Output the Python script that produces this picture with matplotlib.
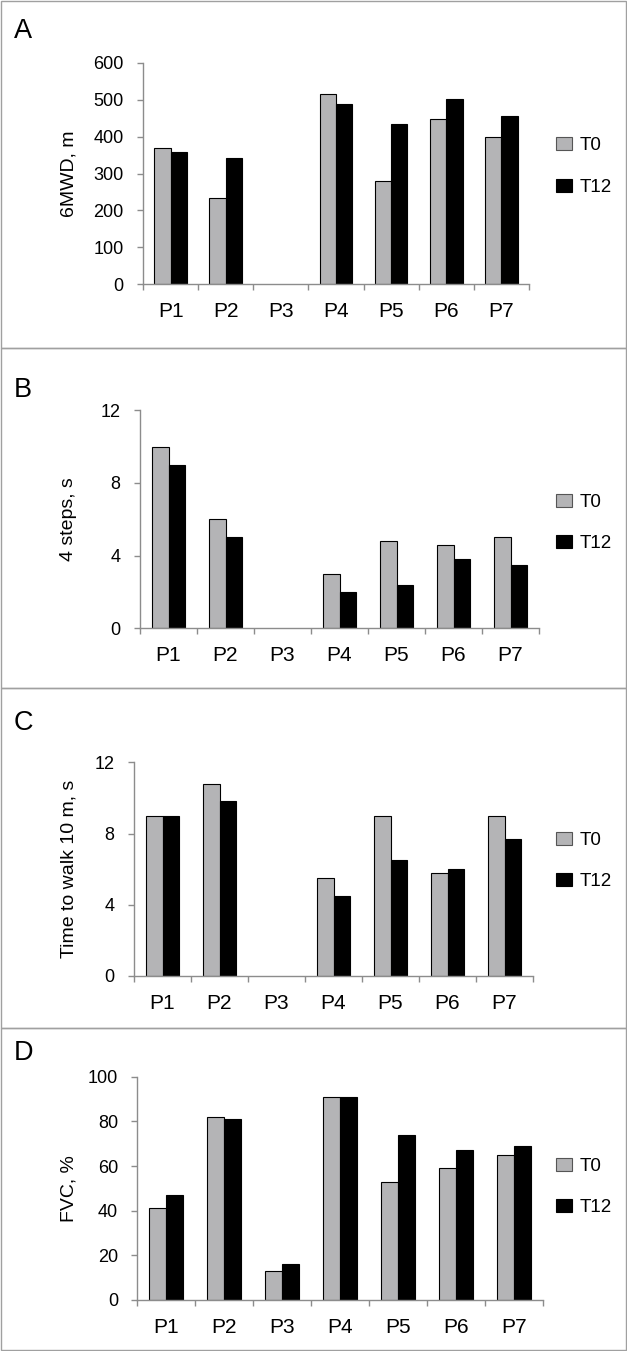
import matplotlib
matplotlib.use("Agg")
import matplotlib.pyplot as plt
from matplotlib.patches import Rectangle, Patch
from matplotlib.transforms import blended_transform_factory
import numpy as np

plt.rcParams['font.family'] = ['Liberation Sans', 'DejaVu Sans']

categories = ["P1", "P2", "P3", "P4", "P5", "P6", "P7"]
series_names = ["T0", "T12"]

mwd_t0 = [370, 235, 0, 515, 280, 448, 400]
mwd_t12 = [358, 342, 0, 488, 435, 503, 455]

steps_t0 = [10, 6, 0, 3, 4.8, 4.6, 5]
steps_t12 = [9, 5, 0, 2, 2.4, 3.8, 3.5]

walk_t0 = [9, 10.8, 0, 5.5, 9, 5.8, 9]
walk_t12 = [9, 9.8, 0, 4.5, 6.5, 6, 7.7]

fvc_t0 = [41, 82, 13, 91, 53, 59, 65]
fvc_t12 = [47, 81, 16, 91, 74, 67, 69]

panel_letters = ["A", "B", "C", "D"]
ylabels = ["6MWD, m", "4 steps, s", "Time to walk 10 m, s", "FVC, %"]
yticks_list = [[0, 100, 200, 300, 400, 500, 600], [0, 4, 8, 12], [0, 4, 8, 12],
               [0, 20, 40, 60, 80, 100]]
data = [(mwd_t0, mwd_t12), (steps_t0, steps_t12), (walk_t0, walk_t12), (fvc_t0, fvc_t12)]

W, H = 627, 1351
fig = plt.figure(figsize=(W / 100, H / 100), dpi=100)

# layout in pixels: (left, right, top, bottom) of axes
ax_px = [(143, 529, 62.7, 284.3), (140, 539, 410.3, 628.3),
         (134, 533, 762.3, 976), (137.4, 543, 1076.7, 1300)]
letter_base = [38, 397, 730, 1060]
legend_mid = [166.5, 523, 861, 1187]
seps = [0.5, 348, 688, 1028, 1350]

border_col = '#a0a0a0'
spine_col = '#8c8c8c'
gray = '#b4b4b6'

# panel borders
for i in range(4):
    top, bot = seps[i], seps[i + 1]
    fig.patches.append(Rectangle((0.5 / W, 1 - bot / H), (W - 1.5) / W, (bot - top) / H,
                                 transform=fig.transFigure, fill=False,
                                 edgecolor=border_col, linewidth=1.0))

x = np.arange(len(categories))
bw = 0.295
for i in range(4):
    l, r, t, b = ax_px[i]
    ax = fig.add_axes([l / W, 1 - b / H, (r - l) / W, (b - t) / H])
    t0, t12 = data[i]
    lw0 = [0.8 if v > 0 else 0 for v in t0]
    lw12 = [0.8 if v > 0 else 0 for v in t12]
    ax.bar(x - bw / 2, t0, bw, color=gray, edgecolor='black', linewidth=lw0, label=series_names[0])
    ax.bar(x + bw / 2, t12, bw, color='black', edgecolor='black', linewidth=lw12, label=series_names[1])
    yt = yticks_list[i]
    ax.set_ylim(0, yt[-1])
    ax.set_yticks(yt)
    ax.set_xlim(-0.5, len(categories) - 0.5)
    ax.set_xticks(x)
    ax.set_xticklabels(categories)
    ax.set_xticks(np.arange(-0.5, len(categories)), minor=True)
    ax.tick_params(axis='x', which='major', length=0, pad=13, labelsize=15)
    ax.tick_params(axis='x', which='minor', length=4.5, width=1, color=spine_col, direction='out')
    ax.tick_params(axis='y', length=4, width=1, color=spine_col, direction='out', pad=10, labelsize=13)
    for s in ['top', 'right']:
        ax.spines[s].set_visible(False)
    for s in ['left', 'bottom']:
        ax.spines[s].set_color(spine_col)
        ax.spines[s].set_linewidth(1)
    ax.set_ylabel(ylabels[i], fontsize=14)
    ax.yaxis.set_label_coords(77 / W, 0.5, transform=blended_transform_factory(fig.transFigure, ax.transAxes))
    fig.text(14 / W, 1 - letter_base[i] / H, panel_letters[i], fontsize=19.5, ha='left', va='baseline')
    handles = [Patch(facecolor=gray, edgecolor='#555555', linewidth=0.8),
               Patch(facecolor='black', edgecolor='black', linewidth=0.8)]
    ax.legend(handles, series_names, loc='center left', bbox_to_anchor=(556 / W, 1 - legend_mid[i] / H),
              bbox_transform=fig.transFigure, frameon=False, fontsize=13.5,
              handlelength=0.85, handleheight=0.7, handletextpad=0.4, labelspacing=1.3,
              borderpad=0, borderaxespad=0)

fig.savefig("out.png", dpi=100)
